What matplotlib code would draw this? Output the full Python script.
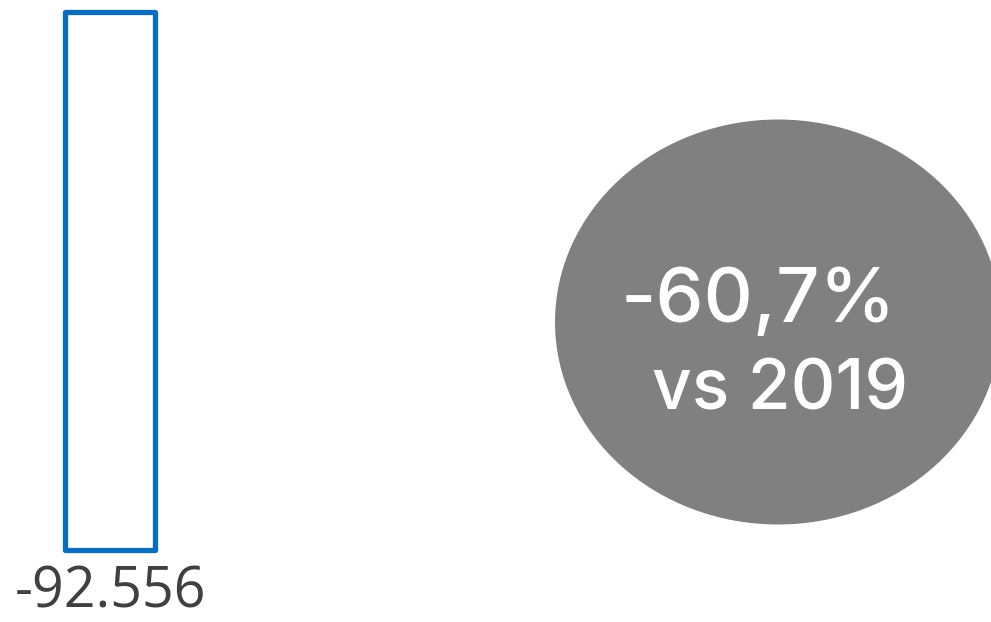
import matplotlib
matplotlib.use("Agg")
import matplotlib.pyplot as plt
from matplotlib.patches import Ellipse

# Data
categories = ["2020"]
values = [-92556]
change_pct = [-60.7]
comparison_label = "vs 2019"

W, H, DPI = 991, 622, 100
fig = plt.figure(figsize=(W / DPI, H / DPI), dpi=DPI)

# Bar axes: 0 at pixel 12 from top, value at pixel 550
top_px, bot_px = 12, 550
span = bot_px - top_px
v = abs(values[0])
ymax = top_px / span * v
ymin = -(H - top_px) / span * v
ax = fig.add_axes([0, 0, 1, 1])
ax.set_xlim(0, W)
ax.set_ylim(ymin, ymax)
ax.axis("off")
bars = ax.bar([110], values, width=90, bottom=0, facecolor="white",
              edgecolor="#0A6EC0", linewidth=3.8, joinstyle="round")

def fmt(n):
    s = f"{abs(n):,}".replace(",", ".")
    return ("-" if n < 0 else "") + s

label_y = -(621.5 - top_px) / span * v
ax.text(110, label_y, fmt(values[0]), ha="center", va="bottom",
        fontsize=40, color="#404040", family="Open Sans")

# Overlay axes in pixel units for the bubble
ov = fig.add_axes([0, 0, 1, 1])
ov.set_xlim(0, W)
ov.set_ylim(H, 0)
ov.axis("off")
ov.patch.set_alpha(0)
ov.add_patch(Ellipse((778, 322), 446, 405, facecolor="#808080", edgecolor="none"))
pct = f"{change_pct[0]:.1f}".replace(".", ",") + "%"
ov.text(758, 322, pct, ha="center", va="baseline", fontsize=55,
        color="white", family="Inter", fontweight="medium")
ov.text(780, 410, comparison_label, ha="center", va="baseline", fontsize=50,
        color="white", family="Inter", fontweight="medium")

fig.savefig("out.png", dpi=DPI)
